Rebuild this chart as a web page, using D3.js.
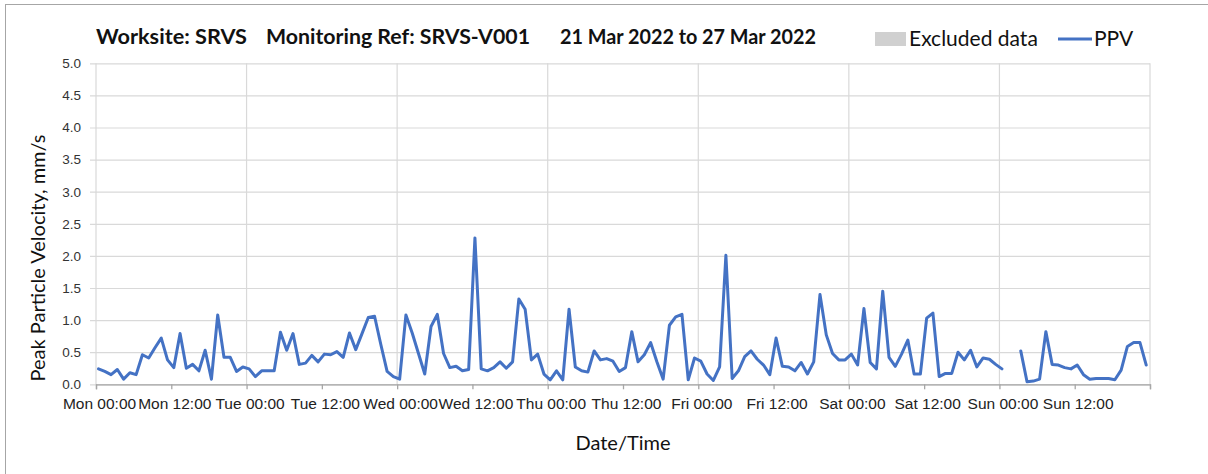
<!DOCTYPE html>
<html>
<head>
<meta charset="utf-8">
<script src="https://cdn.jsdelivr.net/npm/d3@7"></script>
<style>
  body { margin: 0; background: #fff; }
  svg { display: block; font-family: Lato, "Open Sans", sans-serif; }
</style>
</head>
<body>
<svg id="chart" width="1208" height="474"></svg>
<script>
// Header text and legend entries
const titleParts = ["Worksite: SRVS", "Monitoring Ref: SRVS-V001", "21 Mar 2022 to 27 Mar 2022"];
const legendLabels = ["Excluded data", "PPV"];
const yAxisLabel = "Peak Particle Velocity, mm/s";
const xAxisLabel = "Date/Time";

// Axis ticks
const yTickValues = [0, 0.5, 1.0, 1.5, 2.0, 2.5, 3.0, 3.5, 4.0, 4.5, 5.0];

// Reporting week and hourly sampling
const periodStart = Date.UTC(2022, 2, 21, 0, 0);
const periodEnd = Date.UTC(2022, 2, 28, 0, 0);
const firstSample = Date.UTC(2022, 2, 21, 0, 24);
const sampleMinutes = 60;

// Hourly peak particle velocity, mm/s (null = no reading)
const ppv = [
  0.24, 0.20, 0.15, 0.23, 0.08, 0.18, 0.15, 0.46, 0.41, 0.57,
  0.72, 0.38, 0.26, 0.79, 0.25, 0.31, 0.21, 0.53, 0.08, 1.08,
  0.42, 0.42, 0.20, 0.27, 0.24, 0.12, 0.21, 0.21, 0.21, 0.81,
  0.53, 0.79, 0.31, 0.33, 0.45, 0.35, 0.47, 0.46, 0.51, 0.42,
  0.80, 0.54, 0.79, 1.04, 1.06, 0.62, 0.20, 0.12, 0.08, 1.08,
  0.80, 0.48, 0.16, 0.90, 1.09, 0.48, 0.26, 0.28, 0.21, 0.23,
  2.28, 0.24, 0.21, 0.26, 0.35, 0.25, 0.35, 1.33, 1.17, 0.38,
  0.47, 0.16, 0.07, 0.21, 0.07, 1.17, 0.27, 0.21, 0.19, 0.52,
  0.38, 0.40, 0.36, 0.20, 0.26, 0.82, 0.35, 0.46, 0.65, 0.35,
  0.08, 0.92, 1.05, 1.09, 0.07, 0.41, 0.36, 0.16, 0.06, 0.27,
  2.01, 0.09, 0.21, 0.43, 0.52, 0.39, 0.30, 0.15, 0.72, 0.28,
  0.27, 0.21, 0.34, 0.16, 0.35, 1.40, 0.77, 0.48, 0.38, 0.38,
  0.47, 0.30, 1.18, 0.34, 0.24, 1.45, 0.42, 0.28, 0.47, 0.69,
  0.16, 0.16, 1.03, 1.11, 0.12, 0.17, 0.17, 0.50, 0.38, 0.53,
  0.27, 0.41, 0.39, 0.31, 0.24, null, null, 0.52, 0.04, 0.05,
  0.08, 0.82, 0.31, 0.30, 0.26, 0.24, 0.30, 0.15, 0.08, 0.09,
  0.09, 0.09, 0.07, 0.22, 0.59, 0.65, 0.65, 0.30
];

const data = ppv.map((v, i) => ({ t: new Date(firstSample + i * sampleMinutes * 60000), v }));

const svg = d3.select("#chart");
const margin = { left: 96, right: 58, top: 63.3, bottom: 89.7 };
const W = 1208, H = 474;
const plotW = W - margin.left - margin.right;
const plotH = H - margin.top - margin.bottom;

// Chart frame
svg.append("rect")
  .attr("x", 5.5).attr("y", 4.5)
  .attr("width", 1210).attr("height", 480)
  .attr("fill", "#fff").attr("stroke", "#a6a6a6").attr("stroke-width", 1);

const x = d3.scaleUtc().domain([new Date(periodStart), new Date(periodEnd)]).range([0, plotW]);
const y = d3.scaleLinear().domain([0, 5]).range([plotH, 0]);

const g = svg.append("g").attr("transform", `translate(${margin.left},${margin.top})`);

// Horizontal gridlines with short ticks on the left
const yAxis = d3.axisLeft(y)
  .tickValues(yTickValues)
  .tickSize(-plotW - 6)
  .tickPadding(10)
  .tickFormat(d3.format(".1f"));
const yG = g.append("g").attr("transform", "translate(-6,0)").call(yAxis);
yG.select(".domain").remove();
yG.selectAll(".tick line").attr("stroke", "#d9d9d9").attr("stroke-width", 1.2);
yG.selectAll(".tick text")
  .attr("x", -9)
  .attr("fill", "#333").attr("font-size", 13.5);

// Vertical day gridlines
const dayTicks = d3.utcDay.range(new Date(periodStart), new Date(periodEnd + 1));
g.append("g").selectAll("line").data(dayTicks).join("line")
  .attr("x1", d => x(d)).attr("x2", d => x(d))
  .attr("y1", 0).attr("y2", plotH)
  .attr("stroke", "#d9d9d9").attr("stroke-width", 1.2);

// Time axis: ticks every 12 hours, last one unlabelled
const halfDays = d3.utcHour.every(12).range(new Date(periodStart), new Date(periodEnd + 1));
const fmt = d3.utcFormat("%a %H:%M");
const xAxis = d3.axisBottom(x)
  .tickValues(halfDays)
  .tickSize(5)
  .tickPadding(9)
  .tickFormat(d => (+d === periodEnd ? "" : fmt(d)));
const xG = g.append("g").attr("transform", `translate(0,${plotH})`).call(xAxis);
xG.select(".domain").attr("stroke", "#a6a6a6").attr("stroke-width", 1.3);
xG.selectAll(".tick line").attr("stroke", "#a6a6a6").attr("stroke-width", 1.3);
xG.selectAll(".tick text")
  .attr("dx", 3)
  .attr("fill", "#222").attr("font-size", 15.5);

// PPV line
const line = d3.line()
  .defined(d => d.v != null)
  .x(d => x(d.t))
  .y(d => y(d.v));
g.append("path")
  .datum(data)
  .attr("d", line)
  .attr("fill", "none")
  .attr("stroke", "#4472c4")
  .attr("stroke-width", 3)
  .attr("stroke-linejoin", "round")
  .attr("stroke-linecap", "round");

// Title, three spaced segments
const titleX = [96, 266, 560];
const titleW = [151, 264, 256];
svg.append("g").selectAll("text").data(titleParts).join("text")
  .attr("x", (d, i) => titleX[i])
  .attr("y", 43.5)
  .attr("font-size", 20)
  .attr("font-weight", "bold")
  .attr("fill", "#111")
  .attr("textLength", (d, i) => titleW[i])
  .attr("lengthAdjust", "spacingAndGlyphs")
  .text(d => d);

// Legend
const lg = svg.append("g");
lg.append("rect").attr("x", 875).attr("y", 32).attr("width", 31).attr("height", 14).attr("fill", "#d0d0d0");
lg.append("text").attr("x", 909).attr("y", 45.5).attr("font-size", 21).attr("fill", "#111").text(legendLabels[0]);
lg.append("line").attr("x1", 1058).attr("x2", 1092).attr("y1", 39).attr("y2", 39)
  .attr("stroke", "#4472c4").attr("stroke-width", 3);
lg.append("text").attr("x", 1094).attr("y", 45.5).attr("font-size", 21).attr("fill", "#111").text(legendLabels[1]);

// Axis titles
svg.append("text")
  .attr("transform", `translate(45,258) rotate(-90)`)
  .attr("text-anchor", "middle")
  .attr("font-size", 20)
  .attr("fill", "#111")
  .text(yAxisLabel);
svg.append("text")
  .attr("x", 623).attr("y", 450)
  .attr("text-anchor", "middle")
  .attr("font-size", 20)
  .attr("fill", "#111")
  .text(xAxisLabel);
</script>
</body>
</html>
